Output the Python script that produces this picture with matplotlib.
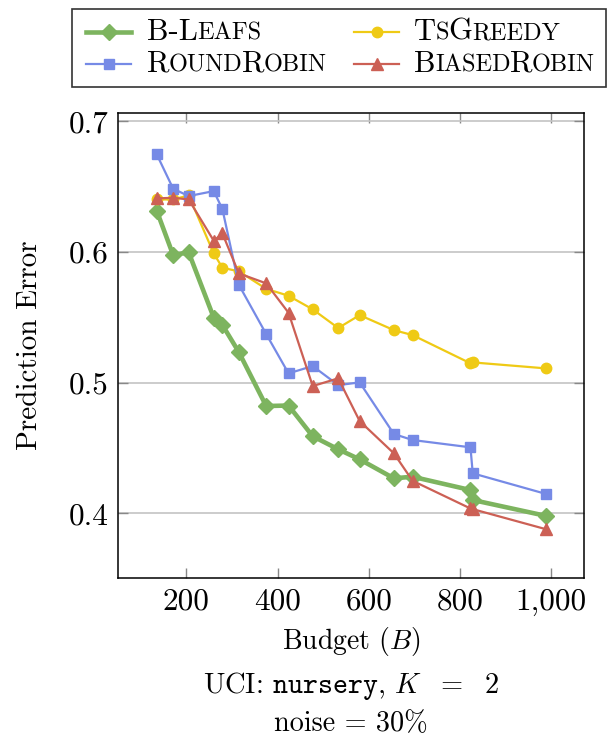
import matplotlib
matplotlib.use('Agg')
import matplotlib.pyplot as plt
from matplotlib.patches import Rectangle

plt.rcParams['font.family'] = 'serif'
plt.rcParams['font.serif'] = ['cmr10']
plt.rcParams['mathtext.fontset'] = 'cm'
plt.rcParams['axes.unicode_minus'] = False
plt.rcParams['axes.formatter.use_mathtext'] = True

# budget values (shared by all methods)
budget = [135, 171, 205, 260, 279, 315, 375, 424, 477, 533, 580, 655, 696, 823, 828, 989]

bleafs = [0.6315, 0.5976, 0.5997, 0.5497, 0.5441, 0.5234, 0.4821, 0.4825, 0.459, 0.449,
          0.4413, 0.4268, 0.428, 0.4178, 0.4102, 0.398]
tsgreedy = [0.6402, 0.6402, 0.6433, 0.5989, 0.5879, 0.5852, 0.5718, 0.5665, 0.5561, 0.5418,
            0.5517, 0.5402, 0.5364, 0.5148, 0.5155, 0.5109]
roundrobin = [0.6747, 0.6484, 0.6428, 0.6466, 0.6328, 0.5749, 0.5372, 0.5071, 0.5127, 0.4981,
              0.5002, 0.4607, 0.4561, 0.4505, 0.4306, 0.4148]
biasedrobin = [0.641, 0.6415, 0.6402, 0.6086, 0.6142, 0.5836, 0.576, 0.5535, 0.4974, 0.5033,
               0.4706, 0.4459, 0.4249, 0.4037, 0.4032, 0.3878]

x_ticks = [200, 400, 600, 800, 1000]
x_tick_labels = ['200', '400', '600', '800', '1,000']
y_ticks = [0.4, 0.5, 0.6, 0.7]
y_tick_labels = ['0.4', '0.5', '0.6', '0.7']

c_green = '#7db45f'
c_blue = '#768ae6'
c_yellow = '#efca15'
c_red = '#cc6055'

W, H = 608, 738
fig = plt.figure(figsize=(W / 100, H / 100), dpi=100)
ax = fig.add_axes([118 / W, 1 - 578 / H, (584 - 118) / W, (578 - 112.7) / H])

ax.plot(budget, bleafs, color=c_green, lw=3.3, marker='D', ms=8, zorder=3)
ax.plot(budget, tsgreedy, color=c_yellow, lw=1.6, marker='o', ms=7.5, zorder=4)
ax.plot(budget, roundrobin, color=c_blue, lw=1.6, marker='s', ms=7, zorder=5)
ax.plot(budget, biasedrobin, color=c_red, lw=1.6, marker='^', ms=8, zorder=6)

ax.set_xlim(50, 1072)
ax.set_ylim(0.3505, 0.7066)
ax.set_xticks(x_ticks)
ax.set_xticklabels(x_tick_labels)
ax.set_yticks(y_ticks)
ax.set_yticklabels(y_tick_labels)
ax.grid(axis='y', color='#c4c4c4', lw=1.2)
ax.set_axisbelow(True)
ax.tick_params(direction='in', length=7, width=1, color='#888888', labelsize=22.5,
               top=True, right=True, pad=7)
for s in ax.spines.values():
    s.set_linewidth(1.1)

ax.set_ylabel('Prediction Error', fontsize=21, va='center')
ax.yaxis.set_label_coords(-0.189, 0.5)
ax.set_xlabel('Budget $(B)$', fontsize=20, va='top')
ax.xaxis.set_label_coords(0.5, -0.101)
fig.text(351 / W, 1 - 686 / H, r'UCI: $\mathtt{nursery}$, $K\ \ =\ \ 2$', fontsize=20.5,
         ha='center', va='center')
fig.text(351 / W, 1 - 724 / H, 'noise = 30%', fontsize=20.3, ha='center', va='center')

# legend drawn in pixel coordinates on an overlay
lg = fig.add_axes([0, 0, 1, 1])
lg.set_xlim(0, W)
lg.set_ylim(H, 0)
lg.axis('off')
lg.add_patch(Rectangle((72, 9), 534, 78, fill=False, ec='#333333', lw=1.2))

BIG, SMALL = 22, 17.5


def small_caps(x, y, parts):
    t = lg.text(x, y, parts[0][0], fontsize=BIG if parts[0][1] else SMALL, va='baseline')
    for s, big in parts[1:]:
        t = lg.annotate(s, xy=(1, y), xycoords=(t, 'data'), xytext=(-0.4, 0),
                        textcoords='offset points', fontsize=BIG if big else SMALL,
                        va='baseline', ha='left')


entries = [
    (86, 147, 32, c_green, 'D', 3.3, 8, [('B-L', True), ('EAFS', False)]),
    (86, 147, 64, c_blue, 's', 1.6, 7, [('R', True), ('OUND', False), ('R', True), ('OBIN', False)]),
    (354, 414, 32, c_yellow, 'o', 1.6, 7.5, [('T', True), ('S', False), ('G', True), ('REEDY', False)]),
    (354, 414, 64, c_red, '^', 1.6, 8, [('B', True), ('IASED', False), ('R', True), ('OBIN', False)]),
]
for hx, tx, yy, col, mk, lw, ms, parts in entries:
    lg.plot([hx, hx + 45], [yy, yy], color=col, lw=lw)
    lg.plot([hx + 22.5], [yy], color=col, marker=mk, ms=ms)
    small_caps(tx, yy + 8, parts)

fig.savefig('out.png', dpi=100)
